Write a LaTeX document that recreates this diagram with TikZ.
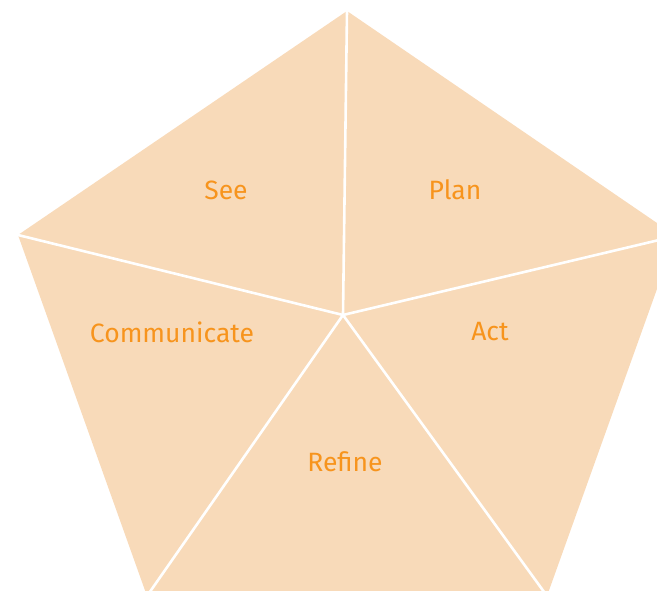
\documentclass[tikz,border=0pt]{standalone}
\usepackage{fontspec}
\setmainfont{Fira Sans}
\definecolor{petal}{HTML}{F8DAB9}
\definecolor{labelc}{HTML}{F7941D}
\tikzset{
  lbl/.style={text=labelc, font=\fontsize{26.5}{31}\selectfont, inner sep=0pt},
  divider/.style={draw=white, line width=2.6pt}
}
\begin{document}
\begin{tikzpicture}[x=1pt,y=-1pt]
\useasboundingbox (0,0) rectangle (657,591);
\clip (0,0) rectangle (657,591);
\coordinate (c) at (343,315);
\coordinate (t) at (347,11);
\coordinate (l) at (18,235);
\coordinate (r) at (676,236);
\coordinate (bl) at (147,596);
\coordinate (br) at (547,596);
\fill[petal] (t) -- (r) -- (br) -- (bl) -- (l) -- cycle;
\draw[divider] (c) -- (t);
\draw[divider] (c) -- (l);
\draw[divider] (c) -- (r);
\draw[divider] (c) -- (bl);
\draw[divider] (c) -- (br);
\node[lbl] (see) at (226,190) {See};
\node[lbl] (plan) at (455,190) {Plan};
\node[lbl] (comm) at (172,332) {Communicate};
\node[lbl] (act) at (490,332) {Act};
\node[lbl] (refine) at (345,462) {Refine};
\end{tikzpicture}
\end{document}
